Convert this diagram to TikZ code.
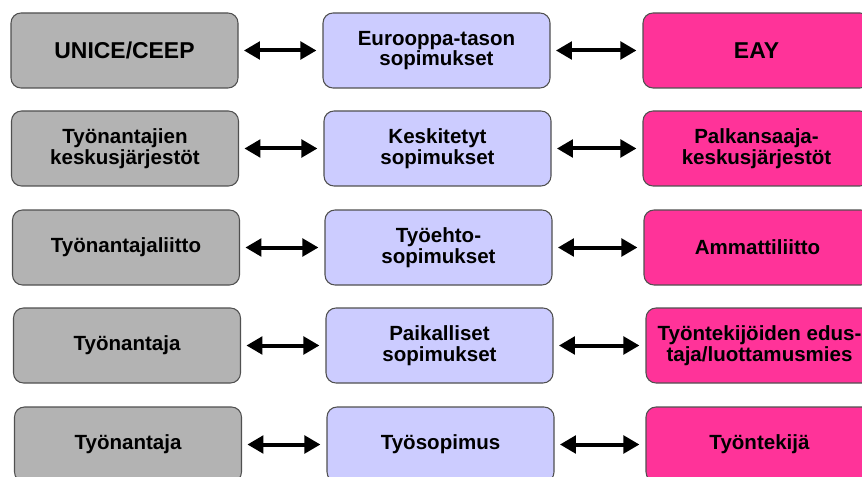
\documentclass[tikz,border=0pt]{standalone}
\usepackage{fontspec}
\setmainfont{Liberation Sans}
\usetikzlibrary{arrows.meta}
\definecolor{gbox}{HTML}{B3B3B3}
\definecolor{mbox}{HTML}{CCCCFF}
\definecolor{pbox}{HTML}{FF3399}
\definecolor{edge}{HTML}{505050}
\begin{document}
\begin{tikzpicture}[x=0.75pt,y=-0.75pt,
  box/.style={draw=edge, line width=0.8pt, rounded corners=7.5pt, minimum width=170.25pt, minimum height=56.25pt, inner sep=0pt, align=center, font=\fontsize{15.4}{15.5}\selectfont\bfseries},
  bigtext/.style={font=\fontsize{17.2}{18}\selectfont\bfseries},
  gray/.style={box, fill=gbox},
  mid/.style={box, fill=mbox},
  pink/.style={box, fill=pbox},
  link/.style={line width=3pt, {Triangle[length=12pt,width=13pt]}-{Triangle[length=12pt,width=13pt]}, shorten <=4pt, shorten >=4.5pt}]
\useasboundingbox (0,0) rectangle (862,477);
\fill[white] (0,0) rectangle (862,477);
\begin{scope}
\clip (0,0) rectangle (862,477);
% row 1
\node[gray,bigtext] (g1) at (124.5,50.5) {UNICE/CEEP};
\node[mid] (m1) at (436.5,50.5) {Eurooppa-tason\\sopimukset};
\node[pink,bigtext] (p1) at (756.5,50.5) {EAY};
% row 2
\node[gray] (g2) at (125,148.5) {Työnantajien\\keskusjärjestöt};
\node[mid] (m2) at (437.5,148.5) {Keskitetyt\\sopimukset};
\node[pink] (p2) at (756.5,148.5) {Palkansaaja-\\keskusjärjestöt};
% row 3
\node[gray] (g3) at (126,247.5) {Työnantajaliitto};
\node[mid] (m3) at (438.5,247.5) {Työehto-\\sopimukset};
\node[pink] (p3) at (757.5,247.5) {Ammattiliitto};
% row 4
\node[gray] (g4) at (127,345.5) {Työnantaja};
\node[mid] (m4) at (439.5,345.5) {Paikalliset\\sopimukset};
\node[pink] (p4) at (759.5,345.5) {Työntekijöiden edus-\\taja/luottamusmies};
% row 5
\node[gray] (g5) at (128,444.5) {Työnantaja};
\node[mid] (m5) at (440.5,444.5) {Työsopimus};
\node[pink] (p5) at (759.5,444.5) {Työntekijä};
\end{scope}
\foreach \i in {1,...,5}{
  \draw[link] (g\i.east) -- (m\i.west);
  \draw[link] (m\i.east) -- (p\i.west);
}
\end{tikzpicture}
\end{document}
